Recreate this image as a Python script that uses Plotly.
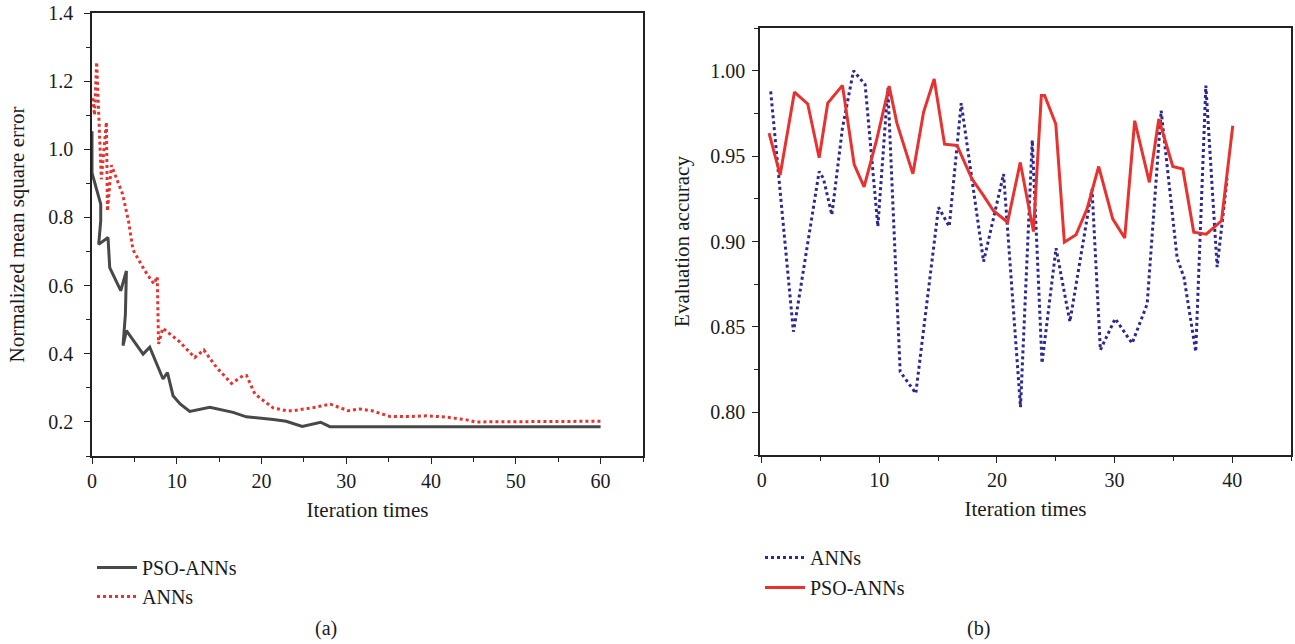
import plotly.graph_objects as go

# ---------------- data (a) ----------------
pso_a_x = [0, 0, 1.03, 1.03, 0.79, 1.89, 2.09, 3.39, 4.06, 3.94, 3.66, 4.06, 6.03, 6.81,
           8.38, 8.9, 9.56, 10.4, 11.53, 13.9, 16.65, 18.2, 21.4, 22.9, 24.8, 26.97, 28.06, 60]
pso_a_y = [1.053, 0.931, 0.839, 0.79, 0.721, 0.741, 0.653, 0.585, 0.643, 0.516, 0.424, 0.468,
           0.399, 0.419, 0.326, 0.345, 0.277, 0.253, 0.231, 0.243, 0.228, 0.215, 0.207, 0.202,
           0.187, 0.199, 0.186, 0.186]

ann_a_x = [0.1, 0.3, 0.55, 0.8, 1.1, 1.7, 1.82, 2.29, 3.62, 4.3, 4.84, 6.2, 7.3, 7.7, 7.85,
           8.35, 10.3, 12.12, 13.19, 14.69, 16.46, 17.83, 18.23, 19.21, 21.37, 22.95, 23.73,
           26.1, 28.1, 30.22, 31.5, 33.0, 35.15, 37.5, 39.48, 41.84, 44.2, 45.2, 60]
ann_a_y = [1.15, 1.10, 1.256, 1.092, 0.912, 1.08, 0.819, 0.953, 0.868, 0.79, 0.705, 0.645,
           0.605, 0.626, 0.429, 0.475, 0.436, 0.389, 0.411, 0.36, 0.313, 0.336, 0.336, 0.282,
           0.241, 0.233, 0.233, 0.242, 0.252, 0.233, 0.238, 0.233, 0.216, 0.216, 0.218, 0.214,
           0.206, 0.2, 0.202]

# ---------------- data (b) ----------------
ann_b_x = [0.76, 2.69, 2.89, 4.88, 5.24, 5.96, 6.86, 7.8, 8.79, 9.87, 10.72, 11.77, 13.1,
           15.03, 15.94, 16.96, 18.86, 20.56, 22.0, 23.0, 23.83, 25.02, 26.2, 28.08, 28.79,
           30.05, 31.49, 32.77, 33.96, 35.32, 35.9, 36.9, 37.76, 38.72, 39.57]
ann_b_y = [0.9879, 0.8472, 0.855, 0.941, 0.937, 0.9156, 0.9664, 1.0, 0.9918, 0.9088, 0.9899,
           0.8238, 0.8111, 0.92, 0.9088, 0.981, 0.8882, 0.9395, 0.803, 0.9593, 0.8287, 0.8961,
           0.853, 0.9309, 0.8365, 0.8548, 0.8404, 0.8634, 0.9766, 0.8902, 0.879, 0.8355,
           0.9913, 0.885, 0.937]

pso_b_x = [0.62, 1.56, 2.78, 3.91, 4.88, 5.61, 6.86, 7.86, 8.7, 9.75, 10.83, 11.49, 12.85,
           13.76, 14.66, 15.54, 16.6, 17.87, 18.9, 19.7, 20.9, 21.98, 23.1, 23.77, 24.05,
           25.0, 25.73, 26.72, 27.66, 28.65, 29.84, 30.86, 31.71, 32.96, 33.76, 34.95, 35.8,
           36.73, 37.79, 39.09, 40.05]
pso_b_y = [0.9635, 0.939, 0.9875, 0.9805, 0.949, 0.981, 0.9914, 0.945, 0.932, 0.959, 0.991,
           0.9693, 0.9396, 0.9758, 0.9951, 0.957, 0.9562, 0.9367, 0.9264, 0.918, 0.9113,
           0.9463, 0.9058, 0.9855, 0.9855, 0.9688, 0.8996, 0.9039, 0.9191, 0.9439, 0.9133,
           0.902, 0.9707, 0.9346, 0.9717, 0.9439, 0.9424, 0.9055, 0.9043, 0.9121, 0.9678]

x_title = "Iteration times"
y_title_a = "Normalized mean square error"
y_title_b = "Evaluation accuracy"
panel_labels = ["(a)", "(b)"]

BLACK = "#484848"
RED = "#e8322f"
BLUE = "#2c2a8e"
FONT = "Liberation Serif"
TXT = "#1a1a1a"
W, H = 1295, 644


def px(x):
    return x / W


def py(y):
    return 1 - y / H


fig = go.Figure()
fig.add_trace(go.Scatter(x=pso_a_x, y=pso_a_y, mode="lines", name="PSO-ANNs",
                         line=dict(color=BLACK, width=3), xaxis="x", yaxis="y",
                         legend="legend", legendgroup="a1"))
fig.add_trace(go.Scatter(x=ann_a_x, y=ann_a_y, mode="lines", name="ANNs",
                         line=dict(color=RED, width=3, dash="dot"), xaxis="x", yaxis="y",
                         legend="legend", legendgroup="a2"))
fig.add_trace(go.Scatter(x=ann_b_x, y=ann_b_y, mode="lines", name="ANNs",
                         line=dict(color=BLUE, width=3, dash="dot"), xaxis="x2", yaxis="y2",
                         legend="legend2", legendgroup="b1"))
fig.add_trace(go.Scatter(x=pso_b_x, y=pso_b_y, mode="lines", name="PSO-ANNs",
                         line=dict(color=RED, width=3), xaxis="x2", yaxis="y2",
                         legend="legend2", legendgroup="b2"))

axis_common = dict(showline=True, linecolor="#222", linewidth=1.6, mirror=True,
                   ticks="outside", ticklen=6, tickwidth=1.4, tickcolor="#222",
                   showgrid=False, zeroline=False, automargin=False,
                   tickfont=dict(family=FONT, size=20, color=TXT))
title_font = dict(family=FONT, size=21, color=TXT)

fig.update_layout(
    width=W, height=H,
    margin=dict(l=0, r=0, t=0, b=0),
    paper_bgcolor="white", plot_bgcolor="white",
    font=dict(family=FONT, size=20, color=TXT),
    xaxis=dict(domain=[px(92), px(643)], range=[0, 65], dtick=10, tick0=0,
               minor=dict(ticks="outside", dtick=5, ticklen=4, tickcolor="#222"),
               title=dict(text=x_title, font=title_font, standoff=12),
               anchor="y", **axis_common),
    yaxis=dict(domain=[py(456), py(13)], range=[0.1, 1.4], dtick=0.2, tick0=0.2,
               tickformat=".1f", ticklabelstandoff=7,
               minor=dict(ticks="outside", dtick=0.1, ticklen=4, tickcolor="#222"),
               title=dict(text=y_title_a, font=title_font, standoff=18),
               anchor="x", **axis_common),
    xaxis2=dict(domain=[px(760), px(1291)], range=[-0.15, 45], dtick=10, tick0=0,
                minor=dict(ticks="outside", dtick=5, ticklen=4, tickcolor="#222"),
                title=dict(text=x_title, font=title_font, standoff=12),
                anchor="y2", **axis_common),
    yaxis2=dict(domain=[py(455), py(28)], range=[0.775, 1.025], dtick=0.05, tick0=0.8,
                tickformat=".2f", ticklabelstandoff=3,
                minor=dict(ticks="outside", dtick=0.025, ticklen=4, tickcolor="#222"),
                title=dict(text=y_title_b, font=title_font, standoff=15),
                anchor="x2", **axis_common),
    legend=dict(x=px(92), y=py(548), xanchor="left", yanchor="top",
                font=dict(family=FONT, size=20, color=TXT), bgcolor="rgba(0,0,0,0)",
                tracegroupgap=0, itemwidth=40),
    legend2=dict(x=px(760), y=py(538), xanchor="left", yanchor="top",
                 font=dict(family=FONT, size=20, color=TXT), bgcolor="rgba(0,0,0,0)",
                 tracegroupgap=1, itemwidth=40),
    annotations=[
        dict(text=panel_labels[0], x=px(326), y=py(628), xref="paper", yref="paper",
             xanchor="center", yanchor="middle",
             showarrow=False, font=dict(family=FONT, size=20, color=TXT)),
        dict(text=panel_labels[1], x=px(979), y=py(628), xref="paper", yref="paper",
             xanchor="center", yanchor="middle",
             showarrow=False, font=dict(family=FONT, size=20, color=TXT)),
    ],
)

fig.write_html(
    "out.html",
    config={"displayModeBar": False},
    post_script="document.body.style.margin='0';document.body.style.overflow='hidden';",
)
